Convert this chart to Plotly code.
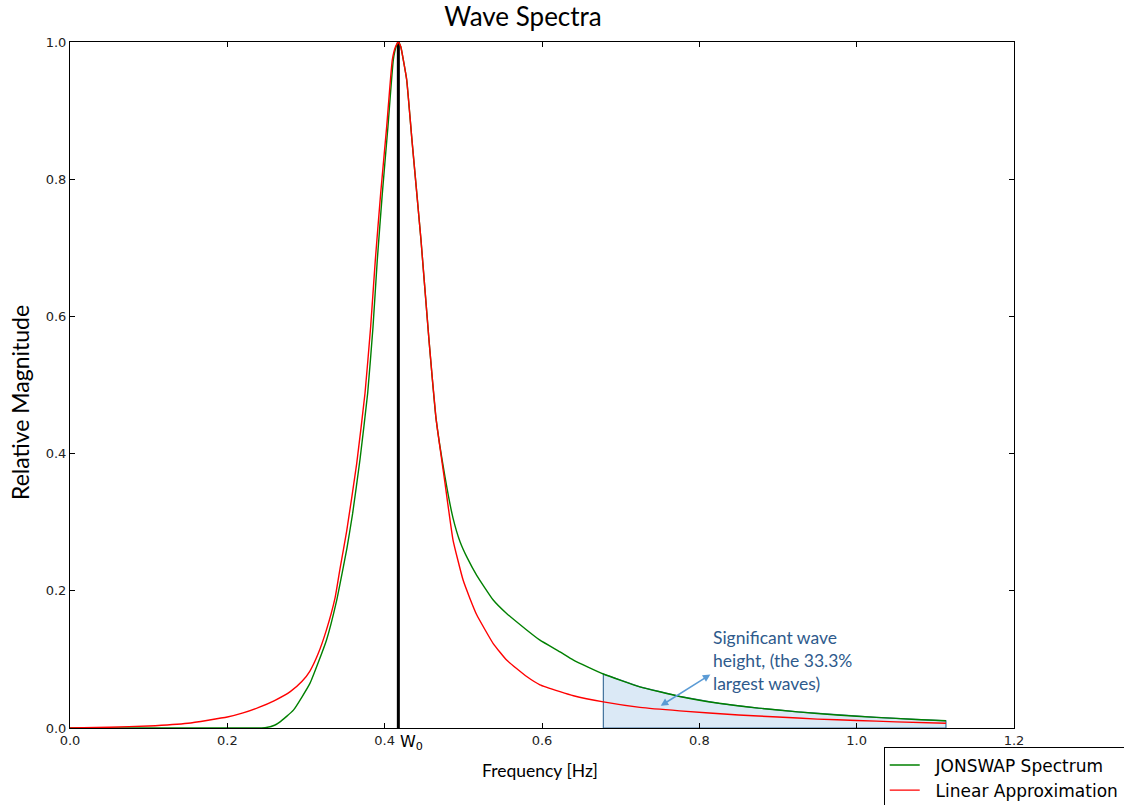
import numpy as np
import plotly.graph_objects as go

# ---- data ----
jonswap_x = [0.0, 0.23, 0.248, 0.26, 0.267, 0.284, 0.305, 0.326, 0.339, 0.3453, 0.352, 0.3592,
             0.3686, 0.3784, 0.3852, 0.3906, 0.397, 0.4042, 0.411, 0.4145, 0.4174, 0.4205, 0.4237,
             0.428, 0.4347, 0.4462, 0.4563, 0.4652, 0.4767, 0.4869, 0.4957,
             0.505, 0.517, 0.538, 0.555, 0.5805, 0.5974, 0.6229, 0.64, 0.678, 0.7245, 0.775,
             0.825, 0.875, 0.925, 0.975, 1.025, 1.075, 1.1135]
jonswap_y = [0.0, 0.0, 0.0005, 0.004, 0.009, 0.026, 0.065, 0.128, 0.186, 0.222, 0.262, 0.312,
             0.391, 0.488, 0.585, 0.682, 0.779, 0.877, 0.974, 0.993, 1.0, 0.993, 0.974,
             0.945, 0.857, 0.711, 0.566, 0.452, 0.366, 0.306, 0.272,
             0.248, 0.2226, 0.1866, 0.167, 0.1429, 0.128, 0.111, 0.099, 0.0787, 0.060, 0.046,
             0.036, 0.029, 0.0235, 0.019, 0.0155, 0.0125, 0.0105]

linear_x = [0.0, 0.05, 0.10, 0.15, 0.20, 0.22, 0.24, 0.26, 0.28, 0.295, 0.305, 0.315, 0.326,
            0.337, 0.3432, 0.3517, 0.3644, 0.375, 0.3822, 0.3881, 0.3949, 0.4026, 0.4097,
            0.4138, 0.4174, 0.4205, 0.4237, 0.428, 0.4347, 0.4462, 0.4563, 0.4652, 0.4767,
            0.4869, 0.4996, 0.508, 0.517, 0.538, 0.555, 0.5805, 0.5974, 0.6229, 0.64, 0.678,
            0.7245, 0.775, 0.85, 0.9, 0.95, 1.0, 1.05, 1.1135]
linear_y = [0.0, 0.001, 0.003, 0.007, 0.016, 0.022, 0.030, 0.040, 0.053, 0.068, 0.083, 0.107,
            0.143, 0.19, 0.232, 0.287, 0.385, 0.488, 0.585, 0.682, 0.779, 0.877, 0.974,
            0.993, 1.0, 0.993, 0.974, 0.945, 0.857, 0.711, 0.566, 0.452, 0.357,
            0.274, 0.216, 0.19, 0.165, 0.123, 0.099, 0.075, 0.063, 0.053, 0.047, 0.038,
            0.030, 0.025, 0.019, 0.016, 0.013, 0.011, 0.009, 0.007]

w0 = 0.4174
shade_start = 0.678
shade_end = 1.1135

x_ticks = [0.0, 0.2, 0.4, 0.6, 0.8, 1.0, 1.2]
x_tick_text = ["0.0", "0.2", "0.4", "0.6", "0.8", "1.0", "1.2"]
y_ticks = [0.0, 0.2, 0.4, 0.6, 0.8, 1.0]
y_tick_text = ["0.0", "0.2", "0.4", "0.6", "0.8", "1.0"]

# ---- shaded region built from the JONSWAP data ----
jx = np.array(jonswap_x)
jy = np.array(jonswap_y)
mask = (jx >= shade_start) & (jx <= shade_end)
sx = [shade_start] + list(jx[mask]) + [shade_end, shade_start]
sy = [0.0] + list(jy[mask]) + [0.0, 0.0]

W, H = 1124, 805
ml, mr, mt, mb = 70, 110, 42, 77
pw, ph = W - ml - mr, H - mt - mb


def px_to_paper(px, py):
    return (px - ml) / pw, (H - mb - py) / ph


fig = go.Figure()

fig.add_trace(go.Scatter(x=sx, y=sy, mode="lines", fill="toself",
                         fillcolor="rgba(189,215,238,0.55)",
                         line=dict(color="#41719c", width=1.2),
                         showlegend=False, hoverinfo="skip"))

fig.add_trace(go.Scatter(x=[w0, w0], y=[0, 1], mode="lines",
                         line=dict(color="black", width=3), showlegend=False))

line_shape = dict(shape="spline", smoothing=0.4)
fig.add_trace(go.Scatter(x=jonswap_x, y=jonswap_y, mode="lines",
                         name="\u00a0\u00a0JONSWAP Spectrum",
                         line=dict(color="#008000", width=1.4, **line_shape)))
fig.add_trace(go.Scatter(x=linear_x, y=linear_y, mode="lines",
                         name="\u00a0\u00a0Linear Approximation",
                         line=dict(color="#ff0000", width=1.4, **line_shape)))

axis_common = dict(showline=True, linecolor="black", linewidth=1, mirror="ticks",
                   ticks="inside", ticklen=5, tickcolor="black", showgrid=False,
                   zeroline=False, tickfont=dict(family="DejaVu Sans", size=13, color="#222"))

fig.update_xaxes(range=[0, 1.2], tickvals=x_ticks, ticktext=x_tick_text, **axis_common)
fig.update_yaxes(range=[0, 1.0], tickvals=y_ticks, ticktext=y_tick_text, **axis_common)

# axis titles, placed by pixel position
xa, ya = px_to_paper(540, 770)
fig.add_annotation(x=xa, y=ya, xref="paper", yref="paper", text="Frequency [Hz]",
                   xanchor="center", yanchor="middle", showarrow=False,
                   font=dict(family="Lato", size=17.5, color="black"))
xb, yb = px_to_paper(20, 403)
fig.add_annotation(x=xb, y=yb, xref="paper", yref="paper", text="Relative Magnitude",
                   textangle=-90, xanchor="center", yanchor="middle", showarrow=False,
                   font=dict(family="Lato", size=23, color="black"))

fig.add_annotation(x=w0, y=0, xref="x", yref="y", text="W<sub>0</sub>", showarrow=False,
                   xanchor="left", yanchor="top", yshift=-2,
                   font=dict(family="DejaVu Sans", size=16, color="black"))

fig.add_annotation(x=0.815, y=0.150, xref="x", yref="y",
                   text="Significant wave<br>height, (the 33.3%<br>largest waves)",
                   showarrow=False, xanchor="left", yanchor="top", align="left",
                   font=dict(family="Lato", size=17.5, color="#2e5a8c"))

fig.add_annotation(x=0.814, y=0.078, xref="x", yref="y", ax=0.749, ay=0.031,
                   axref="x", ayref="y", text="", showarrow=True,
                   arrowhead=2, startarrowhead=2, arrowside="end+start",
                   arrowsize=1, startarrowsize=1, arrowwidth=1.5, arrowcolor="#5b9bd5")

fig.update_layout(
    width=W, height=H,
    title=dict(text="Wave Spectra", x=523 / W, xanchor="center", y=1 - 17 / H, yanchor="middle",
               font=dict(family="Lato", size=26, color="black")),
    margin=dict(l=ml, r=mr, t=mt, b=mb, autoexpand=False),
    paper_bgcolor="white", plot_bgcolor="white",
    legend=dict(x=0.862, y=-0.027, xanchor="left", yanchor="top",
                bordercolor="black", borderwidth=1, bgcolor="white",
                font=dict(family="DejaVu Sans", size=17, color="black"),
                tracegroupgap=0, itemwidth=30),
)

fig.write_html("out.html")
